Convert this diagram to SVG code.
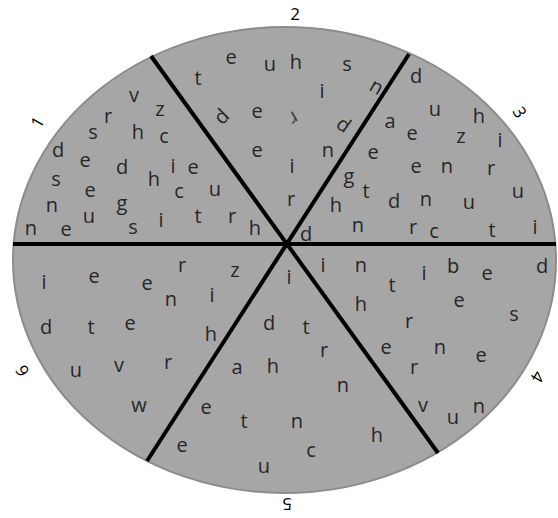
<svg xmlns="http://www.w3.org/2000/svg" width="558" height="518" viewBox="0 0 558 518">
<style>
.bg{fill:#a6a6a6;stroke:#8c8c8c;stroke-width:2}
.ln{stroke:#000;stroke-width:4;fill:none;stroke-linecap:butt}
text{font-family:"Open Sans","Liberation Sans",sans-serif;fill:#262626;text-anchor:middle}
.s text{font-size:20px}
.lab{font-size:17px;fill:#000}
.c{dominant-baseline:central}
</style>
<rect width="558" height="518" fill="#fff"/>
<ellipse class="bg" cx="284.5" cy="260" rx="271.5" ry="233"/>
<g id="connectors">
<line class="ln" x1="13" y1="244" x2="556" y2="244"/>
<line class="ln" x1="151" y1="56" x2="438" y2="453"/>
<line class="ln" x1="409" y1="54" x2="147" y2="461"/>
</g>
<g id="labels">
<text class="lab c" transform="rotate(-60 37 122)" x="37" y="122">1</text>
<text class="lab" x="295" y="20">2</text>
<text class="lab c" transform="rotate(60 520 112)" x="520" y="112">3</text>
<text class="lab c" transform="rotate(120 538 377)" x="538" y="377">4</text>
<text class="lab c" transform="rotate(180 287 504)" x="287" y="504">5</text>
<text class="lab c" transform="rotate(-120 22 371)" x="22" y="371">6</text>
</g>
<g id="sector1" class="s">
<text x="134" y="102">v</text><text x="160" y="116">z</text><text x="108" y="123">r</text>
<text x="93" y="139">s</text><text x="138" y="139">h</text><text x="164" y="143">c</text>
<text x="58" y="157" fill="#111">d</text><text x="85" y="167">e</text><text x="122" y="174">d</text>
<text x="173" y="173">i</text><text x="193" y="174">e</text><text x="56" y="186">s</text>
<text x="154" y="186">h</text><text x="90" y="197">e</text><text x="179" y="198">c</text>
<text x="215" y="196">u</text><text x="52" y="212">n</text><text x="122" y="210">g</text>
<text x="89" y="223">u</text><text x="133" y="234">s</text><text x="161" y="227">i</text>
<text x="198" y="223">t</text><text x="232" y="223">r</text><text x="255" y="235">h</text>
<text x="31" y="235">n</text><text x="66" y="236">e</text>
</g>
<g id="sector2" class="s">
<text x="198" y="85">t</text><text x="231" y="64">e</text><text x="270" y="71">u</text>
<text x="296" y="69">h</text><text x="347" y="71">s</text><text x="322" y="98">i</text>
<text class="c" transform="rotate(30 377 86)" x="377" y="86">n</text>
<text class="c" transform="rotate(-45 221 116)" x="221" y="116">d</text>
<text x="257" y="118">e</text>
<text class="c" transform="rotate(150 294 119)" x="294" y="119" font-size="14" opacity="0.8">r</text>
<text class="c" transform="rotate(35 344 124)" x="344" y="124">d</text>
<text x="257" y="157">e</text><text x="328" y="157">n</text><text x="292" y="173">i</text>
<text x="291" y="206">r</text>
</g>
<g id="sector3" class="s">
<text x="416" y="83">d</text><text x="435" y="116">u</text><text x="479" y="123">h</text>
<text x="390" y="128">a</text><text x="412" y="140">e</text><text x="461" y="143">z</text>
<text x="500" y="147">i</text><text x="373" y="159">e</text><text x="416" y="173">e</text>
<text x="447" y="173">n</text><text x="491" y="175">r</text><text x="349" y="183">g</text>
<text x="366" y="198">t</text><text x="394" y="208">d</text><text x="426" y="206">n</text>
<text x="469" y="209">u</text><text x="518" y="198">u</text><text x="336" y="212">h</text>
<text x="358" y="232">n</text><text x="413" y="234">r</text><text x="434" y="238">c</text>
<text x="492" y="237">t</text><text x="535" y="234">i</text><text x="306" y="241">d</text>
</g>
<g id="sector4" class="s">
<text x="323" y="272">i</text><text x="361" y="272">n</text><text x="392" y="292">t</text>
<text x="424" y="280">i</text><text x="453" y="273">b</text><text x="487" y="280">e</text>
<text x="542" y="273">d</text><text x="361" y="311">h</text><text x="459" y="307">e</text>
<text x="514" y="321">s</text><text x="409" y="328">r</text><text x="386" y="354">e</text>
<text x="440" y="354">n</text><text x="481" y="362">e</text><text x="414" y="374">r</text>
<text x="423" y="412">v</text><text x="453" y="424">u</text><text x="479" y="413">n</text>
</g>
<g id="sector5" class="s">
<text x="289" y="284">i</text><text x="269" y="330">d</text><text x="306" y="334">t</text>
<text x="324" y="357">r</text><text x="237" y="374">a</text><text x="273" y="373">h</text>
<text x="343" y="392">n</text><text x="206" y="414">e</text><text x="244" y="428">t</text>
<text x="297" y="428">n</text><text x="377" y="442">h</text><text x="182" y="452">e</text>
<text x="311" y="457">c</text><text x="264" y="473">u</text>
</g>
<g id="sector6" class="s">
<text x="44" y="289">i</text><text x="94" y="283">e</text><text x="147" y="290">e</text>
<text x="182" y="272">r</text><text x="235" y="277">z</text><text x="171" y="306">n</text>
<text x="212" y="302">i</text><text x="46" y="334">d</text><text x="91" y="334">t</text>
<text x="130" y="330">e</text><text x="211" y="341">h</text><text x="76" y="377">u</text>
<text x="119" y="372">v</text><text x="168" y="369">r</text><text x="139" y="412">w</text>
</g>
</svg>
